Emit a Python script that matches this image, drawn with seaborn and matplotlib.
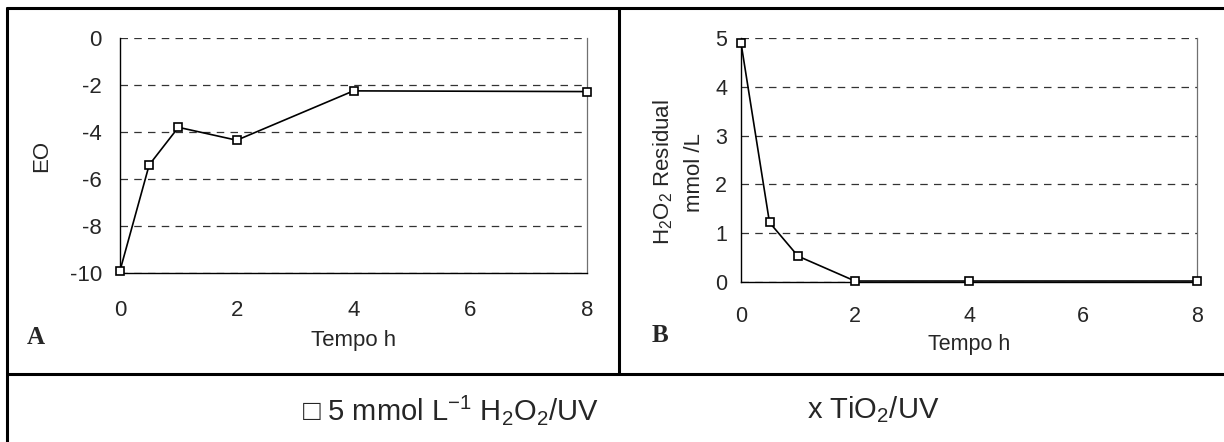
import matplotlib
matplotlib.use("Agg")
import matplotlib.pyplot as plt
from matplotlib.lines import Line2D
from matplotlib.ticker import MultipleLocator
import seaborn as sns
import pandas as pd

# ---- data ----
tempo_h = [0, 0.5, 1, 2, 4, 8]
eo_values = [-9.9, -5.4, -3.8, -4.35, -2.25, -2.28]
h2o2_residual = [4.9, 1.22, 0.53, 0.02, 0.02, 0.02]
a_yticks = [0, -2, -4, -6, -8, -10]
b_yticks = [0, 1, 2, 3, 4, 5]
x_ticks = [0, 2, 4, 6, 8]

sns.set_style("white")
plt.rcParams["font.family"] = ["Liberation Sans", "DejaVu Sans"]
plt.rcParams["axes.unicode_minus"] = False
plt.rcParams["mathtext.fontset"] = "custom"
plt.rcParams["mathtext.rm"] = "Liberation Sans"
plt.rcParams["mathtext.it"] = "Liberation Sans:italic"
plt.rcParams["mathtext.bf"] = "Liberation Sans:bold"

W, H = 1224, 442
fig = plt.figure(figsize=(W / 100, H / 100), dpi=100)


def fx(px):
    return px / W


def fy(py):
    return 1 - py / H


def style_axes(ax, fs, xpad, ypad):
    ax.set_facecolor("white")
    for s in ["left", "bottom"]:
        ax.spines[s].set_color("black")
        ax.spines[s].set_linewidth(1.0)
    ax.spines["right"].set_color("#707070")
    ax.spines["right"].set_linewidth(0.9)
    ax.spines["top"].set_visible(False)
    ax.yaxis.grid(True, color="#333333", linestyle=(0, (6, 5)), linewidth=0.9)
    ax.xaxis.grid(False)
    ax.tick_params(axis="both", direction="out", length=5, width=0.9,
                   color="black", labelsize=fs)
    ax.tick_params(axis="x", pad=xpad)
    ax.tick_params(axis="y", pad=ypad)
    ax.tick_params(axis="x", which="minor", direction="out", length=5, width=0.9, color="black")


# ---- Panel A ----
axA = fig.add_axes([fx(120), fy(273), fx(587) - fx(120), fy(38) - fy(273)])
dfA = pd.DataFrame({"Tempo h": tempo_h, "EO": eo_values})
sns.lineplot(data=dfA, x="Tempo h", y="EO", ax=axA, color="black", linewidth=1.2,
             marker="s", markersize=5.5, markerfacecolor="white",
             markeredgecolor="black", markeredgewidth=1.2, clip_on=False, zorder=5)
axA.set_xlim(0, 8)
axA.set_ylim(-10, 0)
axA.set_xticks(x_ticks)
axA.set_yticks(a_yticks)
style_axes(axA, 16, 14.5, 8)
axA.set_xlabel("Tempo h", fontsize=16, labelpad=6.5)
axA.set_ylabel("EO", fontsize=16, labelpad=13)

# ---- Panel B ----
axB = fig.add_axes([fx(741), fy(282), fx(1197) - fx(741), fy(38) - fy(282)])
dfB = pd.DataFrame({"Tempo h": tempo_h, "H2O2": h2o2_residual})
sns.lineplot(data=dfB, x="Tempo h", y="H2O2", ax=axB, color="black", linewidth=1.2,
             marker="s", markersize=5.5, markerfacecolor="white",
             markeredgecolor="black", markeredgewidth=1.2, clip_on=False, zorder=5)
axB.set_xlim(0, 8)
axB.set_ylim(0, 5)
axB.set_xticks(x_ticks)
axB.xaxis.set_minor_locator(MultipleLocator(1))
axB.set_yticks(b_yticks)
style_axes(axB, 15.5, 12, 5)
axB.set_xlabel("Tempo h", fontsize=15.5, labelpad=5.5)
axB.set_ylabel("H$_2$O$_2$ Residual\nmmol /L", fontsize=16, labelpad=7, linespacing=1.55)
axB.yaxis.label.set_y(0.45)

# ---- panel letters ----
fig.text(fx(27), fy(337), "A", fontsize=18, fontweight="bold",
         family="Liberation Serif", va="center", ha="left")
fig.text(fx(652), fy(336), "B", fontsize=18, fontweight="bold",
         family="Liberation Serif", va="center", ha="left")

# ---- legend text row ----
fig.text(fx(450), fy(410), "\u25a1 5 mmol L$^{-1}$ H$_2$O$_2$/UV", fontsize=21,
         ha="center", va="center", family=["Liberation Sans", "DejaVu Sans"])
fig.text(fx(873), fy(410), "x TiO$_2$/UV", fontsize=21, ha="center", va="center")

# ---- table borders ----
lw = 2.2
fig.add_artist(Line2D([fx(7), 1], [fy(8), fy(8)], color="black", lw=lw))
fig.add_artist(Line2D([fx(7), fx(7)], [fy(8), 0], color="black", lw=lw))
fig.add_artist(Line2D([fx(7), 1], [fy(374), fy(374)], color="black", lw=lw))
fig.add_artist(Line2D([fx(619), fx(619)], [fy(8), fy(374)], color="black", lw=lw))

fig.savefig("out.png", dpi=100, facecolor="white")
